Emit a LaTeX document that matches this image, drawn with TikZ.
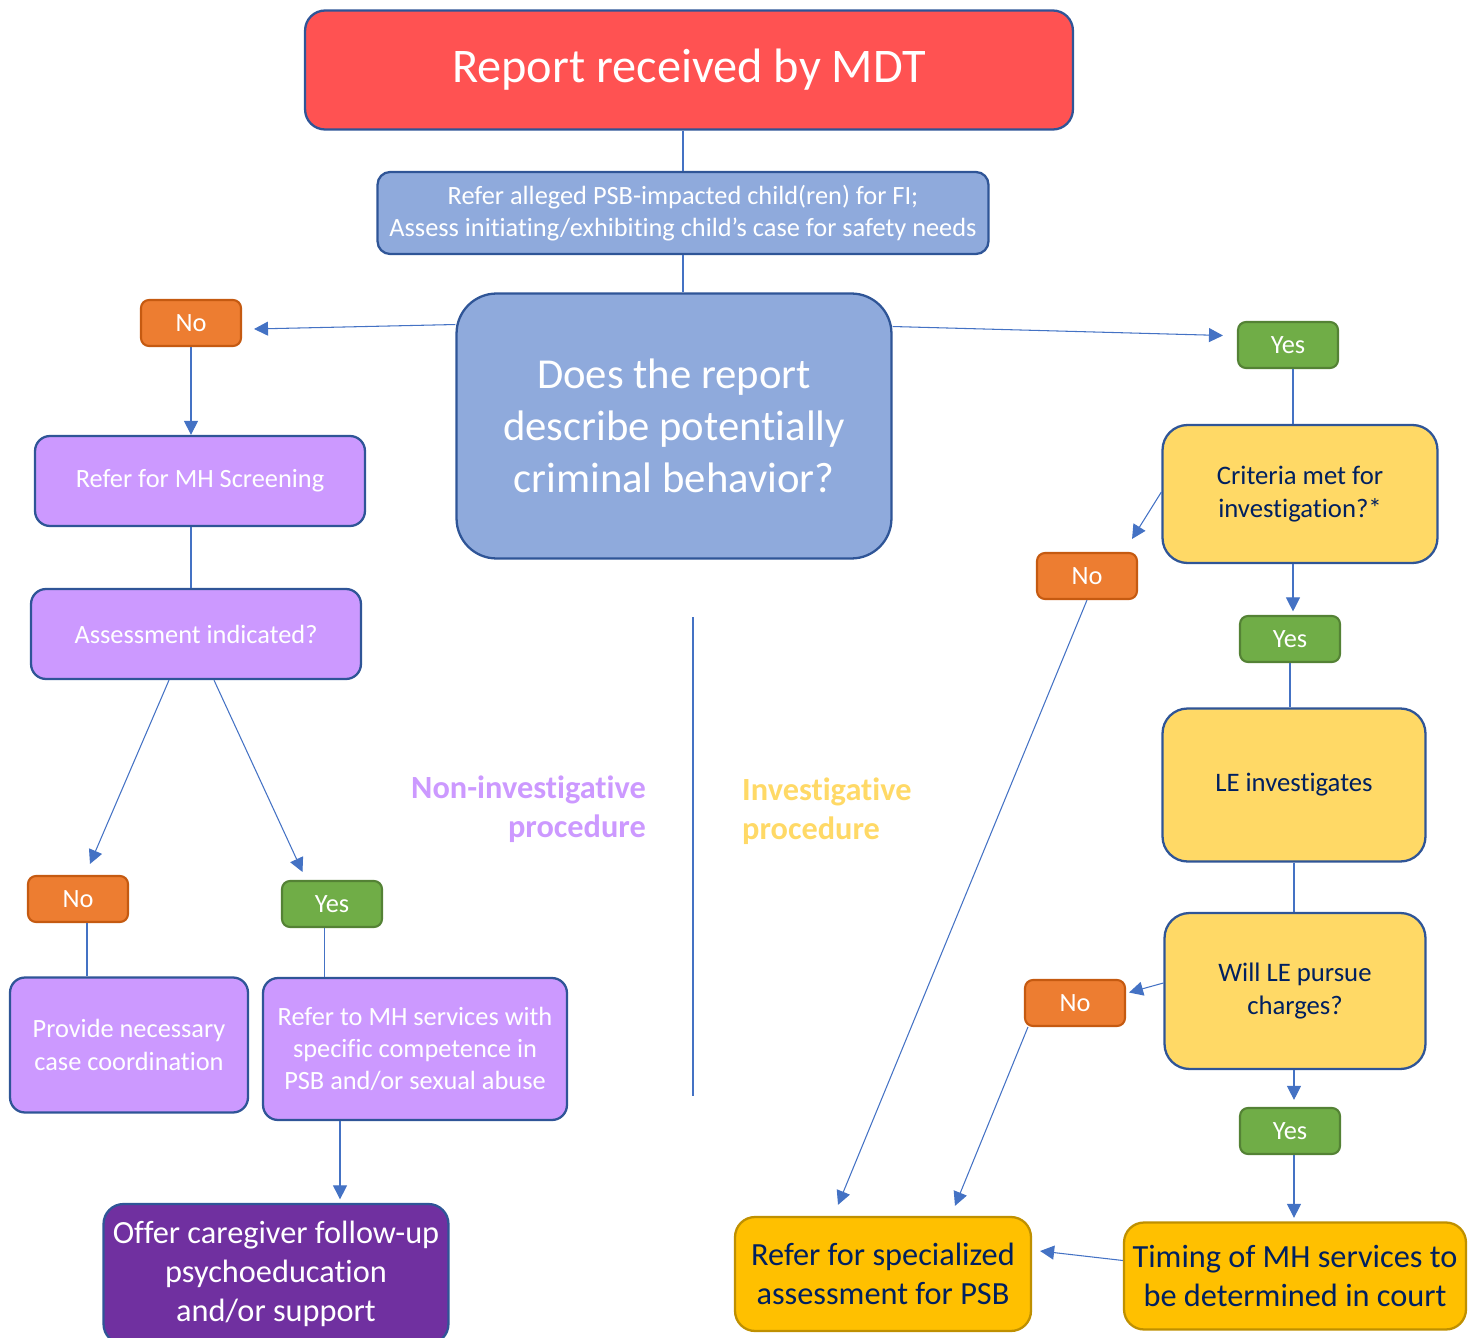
\documentclass[tikz,border=0pt]{standalone}
\usepackage{fontspec}
\setmainfont{Carlito}[Ligatures=NoCommon]
\usepackage{tikz}
\usetikzlibrary{arrows.meta}
\usetikzlibrary{shapes}
\usetikzlibrary{positioning}
\definecolor{mdtred}{HTML}{FF5252}
\definecolor{steel}{HTML}{8FAADC}
\definecolor{edgeblue}{HTML}{2F5597}
\definecolor{arrowblue}{HTML}{4472C4}
\definecolor{lilac}{HTML}{CC99FF}
\definecolor{grape}{HTML}{7030A0}
\definecolor{noorange}{HTML}{ED7D31}
\definecolor{noedge}{HTML}{C55A11}
\definecolor{yesgreen}{HTML}{70AD47}
\definecolor{yesedge}{HTML}{548235}
\definecolor{butter}{HTML}{FFD966}
\definecolor{amber}{HTML}{FFC000}
\definecolor{amberedge}{HTML}{BF9000}
\definecolor{navytext}{HTML}{002060}
\tikzset{
  % Common styles for connectors
  line/.style={draw=arrowblue, line width=0.6pt, -{Triangle[length=0.28cm,width=0.28cm]}},
  link/.style={draw=arrowblue, line width=0.6pt}
}

\begin{document}
\begin{tikzpicture}[x=0.02cm, y=-0.02cm]
    % Define styles
    \tikzstyle{bigbox} = [rectangle, draw=edgeblue, line width=1.3pt, align=center, text=white, inner sep=2pt]
    \tikzstyle{tag} = [rectangle, rounded corners=0.16cm, line width=1.2pt, minimum width=2cm, minimum height=0.92cm, text=white, font=\fontsize{15}{18}\selectfont]
    \tikzstyle{notag} = [tag, fill=noorange, draw=noedge]
    \tikzstyle{yestag} = [tag, fill=yesgreen, draw=yesedge]
    \tikzstyle{lilacbox} = [bigbox, rounded corners=0.3cm, fill=lilac, font=\fontsize{15}{18.3}\selectfont]
    \tikzstyle{butterbox} = [bigbox, rounded corners=0.5cm, fill=butter, text=navytext, font=\fontsize{15.2}{18.7}\selectfont]
    \tikzstyle{amberbox} = [bigbox, rounded corners=0.4cm, fill=amber, draw=amberedge, text=navytext, font=\fontsize{18.4}{22}\selectfont]

    \clip (0,0) rectangle (1478,1338);

    % Place nodes
    \node [bigbox, rounded corners=0.4cm, fill=mdtred, minimum width=15.36cm, minimum height=2.38cm, font=\fontsize{27.5}{30}\selectfont] (mdt) at (689,70) {Report received by MDT};
    \node [bigbox, rounded corners=0.25cm, fill=steel, minimum width=12.22cm, minimum height=1.64cm, font=\fontsize{15}{18.2}\selectfont] (refer) at (683,213) {Refer alleged PSB-impacted child(ren) for FI;\\Assess initiating/exhibiting child’s case for safety needs};
    \node [bigbox, rounded corners=0.8cm, fill=steel, minimum width=8.7cm, minimum height=5.3cm, font=\fontsize{24.3}{29.5}\selectfont] (question) at (674,426) {Does the report\\describe potentially\\criminal behavior?};

    % non-investigative side
    \node [notag] (no1) at (191,323) {No};
    \node [lilacbox, minimum width=6.6cm, minimum height=1.8cm] (screen) at (200,481) {Refer for MH Screening};
    \node [lilacbox, minimum width=6.6cm, minimum height=1.8cm] (assess) at (196,634) {Assessment indicated?};
    \node [notag] (no2) at (78,899) {No};
    \node [yestag] (yes2) at (332,904) {Yes};
    \node [lilacbox, minimum width=4.76cm, minimum height=2.7cm] (provide) at (129,1045) {Provide necessary\\case coordination};
    \node [lilacbox, minimum width=6.08cm, minimum height=2.84cm] (refermh) at (415,1049) {Refer to MH services with\\specific competence in\\PSB and/or sexual abuse};
    \node [bigbox, rounded corners=0.4cm, fill=grape, minimum width=6.9cm, minimum height=2.8cm, font=\fontsize{18.4}{22}\selectfont] (offer) at (276,1274) {Offer caregiver follow-up\\psychoeducation\\and/or support};

    % investigative side
    \node [yestag] (yes1) at (1288,345) {Yes};
    \node [butterbox, minimum width=5.5cm, minimum height=2.76cm] (criteria) at (1300,494) {Criteria met for\\investigation?*};
    \node [notag] (no3) at (1087,576) {No};
    \node [yestag] (yes3) at (1290,639) {Yes};
    \node [butterbox, minimum width=5.26cm, minimum height=3.06cm] (le) at (1294,785) {LE investigates};
    \node [butterbox, minimum width=5.22cm, minimum height=3.12cm] (will) at (1295,991) {Will LE pursue\\charges?};
    \node [notag] (no4) at (1075,1003) {No};
    \node [yestag] (yes4) at (1290,1131) {Yes};
    \node [amberbox, minimum width=6.84cm, minimum height=2.14cm] (timing) at (1295,1276) {Timing of MH services to\\be determined in court};
    \node [amberbox, minimum width=5.92cm, minimum height=2.28cm] (refspec) at (883,1274) {Refer for specialized\\assessment for PSB};

    % procedure labels
    \node [align=right, anchor=east, text=lilac, font=\bfseries\fontsize{18.4}{22}\selectfont] (noninv) at (652,809) {Non-investigative\\procedure};
    \node [align=left, anchor=west, text=butter, font=\bfseries\fontsize{18.4}{22}\selectfont] (inv) at (736,811) {Investigative\\procedure};
    \draw [link] (693,617) -- (693,1096);

    % Draw edges
    \path [link] (refer.north |- mdt.south) -- (refer.north);
    \path [link] (refer.south) -- (refer.south |- question.north);
    \path [line] ([yshift=2.03cm]question.west) -- ([xshift=0.24cm,yshift=-0.12cm]no1.east);
    \path [line] ([yshift=1.99cm]question.east) -- ([xshift=-0.28cm,yshift=0.19cm]yes1.west);
    \path [line] (no1.south) -- (no1.south |- screen.north);
    \path [link] (no1.south |- screen.south) -- (no1.south |- assess.north);
    \path [line] ([xshift=-0.54cm]assess.south) -- ([xshift=0.24cm,yshift=0.22cm]no2.north);
    \path [line] ([xshift=0.36cm]assess.south) -- ([xshift=-0.59cm,yshift=0.16cm]yes2.north);
    \path [link] ([xshift=0.18cm]no2.south) -- ([xshift=0.18cm]no2.south |- provide.north);
    \path [link] ([xshift=-0.15cm]yes2.south) -- ([xshift=-0.15cm]yes2.south |- refermh.north);
    \path [line, shorten >=2pt] ([xshift=-1.5cm]refermh.south) -- ([xshift=-1.5cm]refermh.south |- offer.north);
    \path [link] ([xshift=0.1cm]yes1.south) -- ([xshift=0.1cm]yes1.south |- criteria.north);
    \path [line] ([yshift=0.04cm]criteria.west) -- ([xshift=-0.12cm,yshift=0.26cm]no3.north east);
    \path [line, shorten >=2pt] ([xshift=0.06cm]yes3.north |- criteria.south) -- ([xshift=0.06cm]yes3.north);
    \path [link] (yes3.south) -- (yes3.south |- le.north);
    \path [link] (le.south) -- (le.south |- will.north);
    \path [line] ([yshift=0.16cm]will.west) -- ([xshift=0.06cm,yshift=0.21cm]no4.east);
    \path [line, shorten >=4pt] ([xshift=0.08cm]yes4.north |- will.south) -- ([xshift=0.08cm]yes4.north);
    \path [line, shorten >=2pt] ([xshift=0.08cm]yes4.south) -- ([xshift=0.08cm]yes4.south |- timing.north);
    \path [line] ([yshift=0.31cm]timing.west) -- ([xshift=0.16cm,yshift=0.46cm]refspec.east);
    \path [line] (no3.south) -- ([xshift=-0.9cm,yshift=0.22cm]refspec.north);
    \path [line] ([xshift=0.08cm]no4.south west) -- ([xshift=1.44cm,yshift=0.2cm]refspec.north);

\end{tikzpicture}
\end{document}
